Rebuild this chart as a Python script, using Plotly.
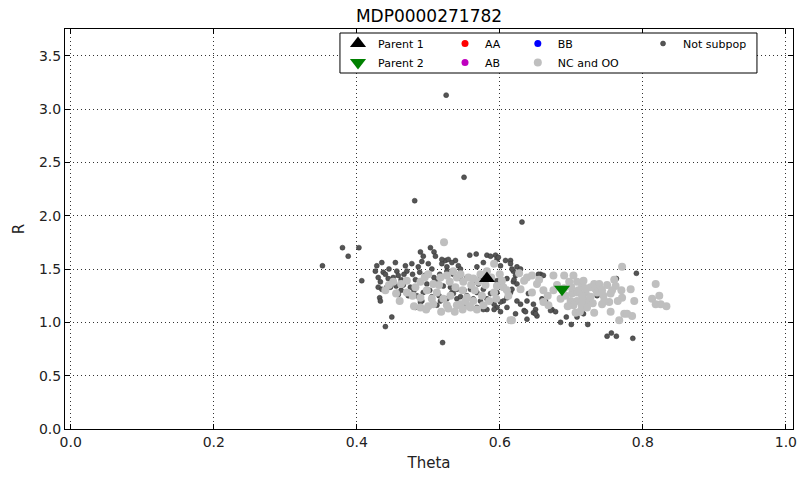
import plotly.graph_objects as go

title = "MDP0000271782"
x_ticks = [0.0, 0.2, 0.4, 0.6, 0.8, 1.0]
y_ticks = [0.0, 0.5, 1.0, 1.5, 2.0, 2.5, 3.0, 3.5]

parent1 = [(0.582, 1.41)]
parent2 = [(0.687, 1.31)]

nc_oo = [
    (0.522, 1.75),
    (0.451, 1.38), (0.470, 1.39), (0.482, 1.33), (0.489, 1.38), (0.498, 1.30), (0.507, 1.36),
    (0.517, 1.42), (0.526, 1.44), (0.540, 1.42), (0.538, 1.33), (0.531, 1.25), (0.521, 1.22),
    (0.507, 1.17), (0.489, 1.14), (0.489, 1.23), (0.549, 1.38), (0.556, 1.42), (0.563, 1.41),
    (0.554, 1.23), (0.540, 1.16), (0.526, 1.16), (0.559, 1.14), (0.568, 1.12), (0.577, 1.16),
    (0.592, 1.28), (0.596, 1.34), (0.603, 1.39), (0.605, 1.33), (0.592, 1.55), (0.582, 1.48),
    (0.573, 1.45), (0.615, 1.02), (0.563, 1.20), (0.545, 1.17),
    (0.462, 1.36), (0.470, 1.28), (0.478, 1.25), (0.495, 1.42), (0.500, 1.45), (0.512, 1.28),
    (0.515, 1.35), (0.530, 1.38), (0.535, 1.48), (0.545, 1.45), (0.548, 1.30), (0.552, 1.20),
    (0.560, 1.35), (0.565, 1.30), (0.570, 1.38), (0.575, 1.25), (0.580, 1.35), (0.585, 1.20),
    (0.588, 1.42), (0.595, 1.22), (0.600, 1.45), (0.610, 1.30), (0.612, 1.25), (0.440, 1.30),
    (0.445, 1.35), (0.455, 1.27), (0.460, 1.20), (0.505, 1.22), (0.518, 1.10), (0.528, 1.13),
    (0.537, 1.10), (0.548, 1.12), (0.557, 1.15), (0.500, 1.15), (0.497, 1.12), (0.480, 1.15),
    (0.638, 1.42), (0.645, 1.44), (0.652, 1.36), (0.634, 1.39), (0.629, 1.31), (0.645, 1.28),
    (0.661, 1.30), (0.661, 1.19), (0.668, 1.16), (0.675, 1.44), (0.690, 1.44), (0.703, 1.44),
    (0.697, 1.38), (0.708, 1.38), (0.715, 1.34), (0.675, 1.30), (0.692, 1.25), (0.701, 1.27),
    (0.708, 1.28), (0.699, 1.20), (0.708, 1.20), (0.717, 1.22), (0.703, 1.16), (0.715, 1.14),
    (0.706, 1.09), (0.617, 1.02),
    (0.771, 1.52), (0.717, 1.39), (0.732, 1.36), (0.739, 1.36), (0.727, 1.33), (0.734, 1.31),
    (0.741, 1.31), (0.720, 1.28), (0.715, 1.25), (0.736, 1.28), (0.743, 1.30), (0.760, 1.40),
    (0.762, 1.34), (0.757, 1.30), (0.755, 1.27), (0.783, 1.31), (0.771, 1.23), (0.788, 1.20),
    (0.753, 1.19), (0.746, 1.20), (0.717, 1.20), (0.725, 1.19), (0.715, 1.16), (0.722, 1.14),
    (0.732, 1.09), (0.743, 1.17), (0.774, 1.08), (0.778, 1.08), (0.785, 1.06), (0.767, 1.02),
    (0.818, 1.36), (0.823, 1.25), (0.813, 1.22), (0.818, 1.17), (0.825, 1.17), (0.833, 1.15),
    (0.680, 1.35), (0.685, 1.22), (0.690, 1.32), (0.695, 1.15), (0.710, 1.30), (0.712, 1.10),
    (0.720, 1.32), (0.727, 1.24), (0.730, 1.18), (0.745, 1.25), (0.750, 1.35), (0.755, 1.10),
    (0.765, 1.20), (0.770, 1.30), (0.627, 1.46), (0.655, 1.40), (0.667, 1.25), (0.700, 1.33),
]

not_subpop = [
    (0.352, 1.53), (0.380, 1.70), (0.388, 1.62), (0.403, 1.70), (0.407, 1.39), (0.449, 1.05),
    (0.440, 0.96), (0.520, 0.81), (0.481, 2.14), (0.525, 3.13), (0.550, 2.36), (0.631, 1.94),
    (0.428, 1.53), (0.435, 1.56), (0.430, 1.42), (0.437, 1.47), (0.433, 1.38), (0.430, 1.33),
    (0.435, 1.31), (0.432, 1.23), (0.444, 1.41), (0.442, 1.33), (0.447, 1.33), (0.454, 1.56),
    (0.456, 1.48), (0.458, 1.44), (0.451, 1.42), (0.456, 1.28), (0.458, 1.26), (0.468, 1.53),
    (0.470, 1.48), (0.477, 1.55), (0.489, 1.66), (0.493, 1.62), (0.491, 1.57), (0.486, 1.52),
    (0.470, 1.39), (0.475, 1.33), (0.472, 1.25), (0.484, 1.25), (0.482, 1.14), (0.491, 1.20),
    (0.503, 1.70), (0.508, 1.66), (0.510, 1.62), (0.500, 1.55), (0.505, 1.50), (0.498, 1.14),
    (0.512, 1.16), (0.524, 1.58), (0.526, 1.52),
    (0.519, 1.55), (0.538, 1.58), (0.542, 1.53), (0.558, 1.63), (0.567, 1.64), (0.582, 1.63),
    (0.594, 1.63), (0.596, 1.59), (0.601, 1.53), (0.615, 1.58), (0.619, 1.48), (0.624, 1.52),
    (0.610, 1.41), (0.619, 1.38), (0.608, 1.31), (0.615, 1.28), (0.624, 1.20), (0.605, 1.20),
    (0.596, 1.14), (0.582, 1.12), (0.568, 1.12), (0.554, 1.17), (0.540, 1.22), (0.533, 1.28),
    (0.517, 1.20), (0.489, 1.19),
    (0.519, 1.59), (0.528, 1.59), (0.533, 1.56), (0.577, 1.56), (0.587, 1.62), (0.598, 1.61),
    (0.608, 1.58), (0.615, 1.55), (0.568, 1.52), (0.545, 1.50), (0.526, 1.48), (0.516, 1.45),
    (0.535, 1.45), (0.545, 1.41), (0.554, 1.42), (0.563, 1.39), (0.570, 1.36), (0.573, 1.42),
    (0.596, 1.39), (0.603, 1.36), (0.521, 1.34), (0.531, 1.33), (0.540, 1.31), (0.550, 1.30),
    (0.559, 1.31), (0.568, 1.28), (0.577, 1.31), (0.587, 1.27), (0.596, 1.28), (0.610, 1.23),
    (0.535, 1.27), (0.545, 1.24), (0.554, 1.25), (0.563, 1.22), (0.573, 1.20), (0.582, 1.22),
    (0.592, 1.17), (0.601, 1.19), (0.526, 1.22), (0.577, 1.12), (0.592, 1.12), (0.601, 1.10),
    (0.568, 1.14), (0.610, 1.14), (0.622, 1.08),
    (0.617, 1.50), (0.622, 1.44), (0.620, 1.40), (0.624, 1.36), (0.617, 1.31), (0.640, 1.27),
    (0.629, 1.17), (0.634, 1.11), (0.636, 1.10), (0.647, 1.17), (0.650, 1.12), (0.647, 1.09),
    (0.652, 1.06), (0.657, 1.45), (0.661, 1.44), (0.659, 1.22), (0.664, 1.20), (0.673, 1.12),
    (0.678, 1.10), (0.638, 1.03), (0.685, 1.00), (0.693, 1.05), (0.700, 0.98), (0.708, 1.05),
    (0.717, 1.08), (0.723, 0.98), (0.629, 1.50), (0.654, 1.45), (0.638, 1.20), (0.671, 1.11),
    (0.650, 1.08),
    (0.791, 1.46), (0.750, 0.87), (0.756, 0.90), (0.763, 0.87), (0.786, 0.85), (0.763, 1.41),
    (0.736, 1.25),
    (0.462, 1.40), (0.465, 1.35), (0.478, 1.45), (0.482, 1.40), (0.495, 1.44), (0.498, 1.36),
    (0.502, 1.30), (0.508, 1.42), (0.512, 1.38), (0.515, 1.25), (0.462, 1.30), (0.480, 1.30),
    (0.493, 1.28), (0.505, 1.24), (0.450, 1.37), (0.466, 1.45), (0.488, 1.47), (0.455, 1.34),
    (0.445, 1.50), (0.440, 1.45), (0.426, 1.48), (0.433, 1.20),
]

fig = go.Figure()

fig.add_trace(go.Scatter(
    x=[p[0] for p in not_subpop], y=[p[1] for p in not_subpop], mode="markers", name="Not subpop",
    marker=dict(color="#555555", size=5, line=dict(width=0.5, color="#333333")), legend="legend4"))
fig.add_trace(go.Scatter(
    x=[p[0] for p in nc_oo], y=[p[1] for p in nc_oo], mode="markers", name="NC and OO",
    marker=dict(color="#bfbfbf", size=8, line=dict(width=0)), legend="legend3", legendrank=2))
fig.add_trace(go.Scatter(x=[None], y=[None], mode="markers", name="AA",
                         marker=dict(color="#ff0000", size=7), legend="legend2", legendrank=1))
fig.add_trace(go.Scatter(x=[None], y=[None], mode="markers", name="AB",
                         marker=dict(color="#bf00bf", size=7), legend="legend2", legendrank=2))
fig.add_trace(go.Scatter(x=[None], y=[None], mode="markers", name="BB",
                         marker=dict(color="#0000ff", size=7), legend="legend3", legendrank=1))
fig.add_trace(go.Scatter(
    x=[p[0] for p in parent1], y=[p[1] for p in parent1], mode="markers", name="Parent 1",
    marker=dict(symbol="triangle-up", color="black", size=14), legend="legend", legendrank=1))
fig.add_trace(go.Scatter(
    x=[p[0] for p in parent2], y=[p[1] for p in parent2], mode="markers", name="Parent 2",
    marker=dict(symbol="triangle-down", color="#008000", size=14), legend="legend", legendrank=2))

axis_common = dict(
    showline=True, linecolor="black", linewidth=1, mirror="ticks",
    ticks="inside", ticklen=5, tickcolor="black",
    showgrid=True, gridcolor="#333333", gridwidth=1, griddash="1px,3px",
    zeroline=False, automargin=False,
    tickfont=dict(family="DejaVu Sans", size=14, color="#222"),
)

fig.update_xaxes(range=[-0.008, 1.01], tickvals=x_ticks, tickformat=".1f",
                 title=dict(text="Theta", font=dict(family="DejaVu Sans", size=15, color="#222"), standoff=8),
                 **axis_common)
fig.update_yaxes(range=[0, 3.75], tickvals=y_ticks, tickformat=".1f",
                 title=dict(text="R", font=dict(family="DejaVu Sans", size=15, color="#222"), standoff=10),
                 **axis_common)

# legend frame (white box behind the four legend columns)
fig.add_shape(type="rect", xref="paper", yref="paper",
              x0=0.3777, x1=0.9505, y0=0.89, y1=0.99,
              line=dict(color="black", width=1), fillcolor="white", layer="above")

leg_font = dict(family="DejaVu Sans", size=11, color="black")
leg_common = dict(orientation="v", xanchor="left", yanchor="top", y=1.0,
                  bgcolor="rgba(0,0,0,0)", borderwidth=0, font=leg_font, tracegroupgap=0)

fig.update_layout(
    width=798, height=477,
    margin=dict(l=65, r=5, t=29, b=48, autoexpand=False),
    paper_bgcolor="white", plot_bgcolor="white",
    title=dict(text=title, x=0.5, xref="paper", xanchor="center", y=0.966, yanchor="middle",
               font=dict(family="DejaVu Sans", size=17, color="black")),
    legend=dict(x=0.375, **leg_common),
    legend2=dict(x=0.522, **leg_common),
    legend3=dict(x=0.622, **leg_common),
    legend4=dict(x=0.794, **leg_common),
    showlegend=True,
)

fig.write_html(
    "out.html",
    config={"displayModeBar": False},
    post_script="document.body.style.margin='0';document.body.style.overflow='hidden';",
)
